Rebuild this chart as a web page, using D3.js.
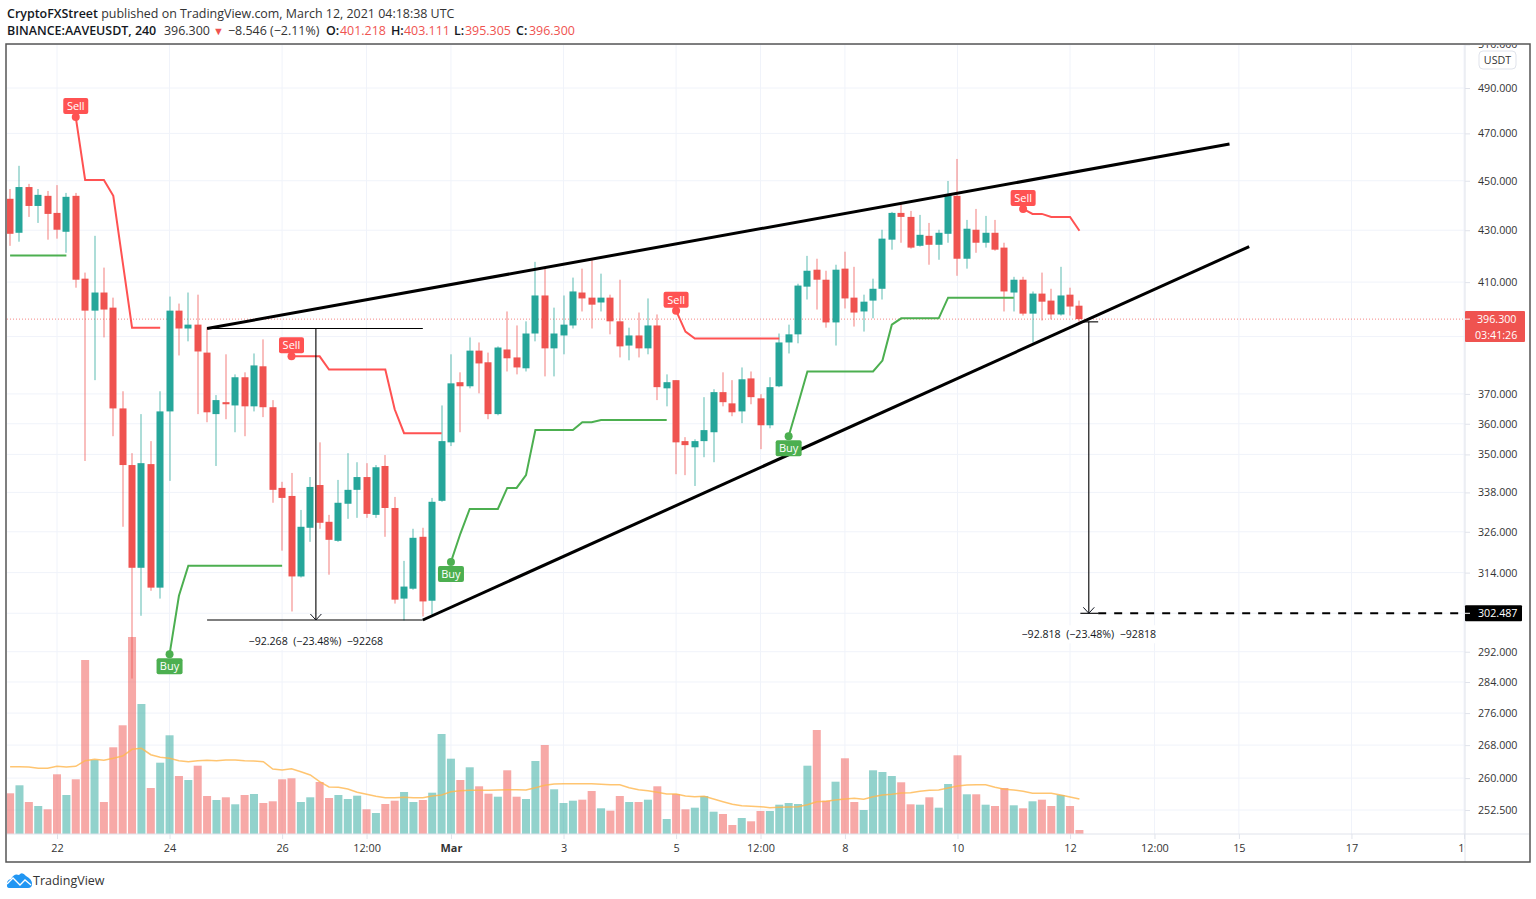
<!DOCTYPE html>
<html lang="en">
<head>
    <meta charset="utf-8">
    <script src="https://d3js.org/d3.v7.min.js"></script>
    <style>
        html, body { margin: 0; padding: 0; background: #fff; }
        svg { display: block; }
        text { font-family: "Open Sans", sans-serif; fill: #131722; white-space: pre; }
    </style>
</head>
<body>

<script>
    var w = 1536;
    var h = 899;

    // 4h bars, index 0 = Feb 21 04:00
    var opens = [442.6,429.0,447.4,439.7,443.8,436.9,429.4,443.8,411.3,399.4,406.1,400.5,365.1,346.6,315.4,346.9,309.7,364.1,399.4,392.9,394.3,384.3,363.2,367.2,366.1,375.7,365.8,379.5,365.5,339.4,336.9,312.9,327.2,340.3,329.0,323.3,334.5,338.8,342.8,331.1,346.3,333.2,306.6,309.4,324.5,306.0,335.4,353.9,374.0,372.6,385.0,380.9,363.2,385.4,382.6,378.8,391.1,405.0,385.8,390.4,394.0,406.1,404.2,402.4,404.2,395.5,386.8,390.4,385.8,394.0,371.9,374.7,354.3,352.3,354.3,357.2,370.6,366.8,364.1,375.3,368.5,359.5,372.6,387.9,390.8,408.3,414.7,410.9,395.1,415.1,404.2,399.1,403.1,407.5,426.3,436.9,435.3,423.9,427.8,424.3,428.6,443.8,418.9,430.2,425.1,429.0,423.2,406.1,410.9,398.3,405.7,403.1,398.0,405.3,401.218];
    var highs = [446.6,456.2,448.7,446.6,445.8,448.2,445.0,445.0,413.6,427.8,415.5,404.2,370.9,350.4,363.2,354.3,370.9,404.6,402.0,406.1,405.3,393.2,369.6,383.7,376.7,377.4,384.0,389.0,367.9,341.3,344.1,332.6,342.8,353.9,331.1,341.9,350.4,347.5,347.2,346.6,349.8,336.6,317.4,326.9,327.2,336.3,366.1,383.7,377.4,389.7,387.9,384.3,386.5,399.1,394.0,395.5,417.7,415.5,400.5,405.0,411.7,415.1,418.5,413.2,405.3,410.9,393.2,398.7,403.9,398.0,376.7,374.7,355.6,354.9,368.9,371.6,377.4,374.7,379.1,377.7,369.9,375.7,391.1,394.3,409.4,420.0,418.9,414.3,416.6,421.6,415.8,405.3,411.3,430.2,437.3,440.6,437.7,436.1,432.9,430.2,449.9,459.1,434.1,438.5,435.7,434.1,425.1,412.0,412.0,406.5,413.6,407.5,415.8,407.9,403.111];
    var lows = [423.9,425.5,435.3,432.9,426.3,426.7,421.2,407.9,347.9,374.7,389.7,355.9,327.5,284.9,301.8,308.8,306.6,341.6,383.3,388.3,363.2,360.5,346.3,361.5,357.2,355.9,364.1,362.2,334.8,320.4,303.0,312.6,323.0,326.9,313.4,323.0,329.9,330.2,330.2,330.2,324.5,305.2,300.5,309.1,301.6,302.1,335.1,352.7,357.2,371.9,370.2,361.5,362.8,377.7,376.7,377.7,388.3,376.0,376.0,383.7,392.9,399.1,392.9,399.1,390.8,382.6,381.6,382.6,383.7,367.9,365.8,343.7,343.4,340.0,349.1,347.5,365.8,362.5,360.2,366.5,351.7,358.5,372.3,384.0,387.6,403.5,399.8,393.2,386.8,400.2,393.6,391.8,396.6,403.5,422.4,425.1,422.8,423.6,416.6,418.5,425.1,412.4,415.1,421.2,423.2,422.0,399.1,399.1,397.6,387.9,395.8,396.2,397.6,397.6,395.305];
    var closes = [428.6,447.4,439.7,444.2,436.5,430.2,443.4,410.9,399.4,406.1,399.8,365.1,346.6,315.4,347.2,309.7,364.1,399.4,392.9,394.3,384.7,363.8,367.9,366.5,375.7,365.8,379.8,365.5,338.8,336.3,312.9,327.5,339.7,328.7,323.6,334.8,338.8,342.8,331.4,345.9,333.2,306.3,310.0,324.2,305.8,335.1,354.3,373.6,372.6,385.0,380.5,363.2,386.1,382.3,379.1,391.1,405.0,385.8,391.1,394.3,406.5,403.9,401.6,404.2,395.5,386.5,390.4,385.8,394.0,372.3,374.0,353.9,353.0,354.3,357.9,370.6,367.2,363.8,375.0,368.9,359.5,372.3,387.9,390.8,408.7,414.3,410.9,395.1,414.7,403.9,398.7,402.7,407.5,426.7,436.9,435.3,423.2,428.2,424.3,429.0,444.2,418.9,430.6,425.1,429.0,422.4,406.5,410.9,398.3,405.7,402.7,398.0,405.0,400.9,396.3];

    var volumes = [40.7,48.7,32,28,24.7,59.7,39,54.7,174,74,32,86.7,108.7,197,130,46,71.3,98.7,58,54,68.3,38,34,36.7,29.7,39,40,31,32.7,54.7,55.7,32,36.7,52,36,39,35,38.3,24.7,21,30,33.3,42,32,34,41.3,100,75.3,54,66.7,47.7,40.3,37.3,63.7,37.3,35,73,89,44.7,31,33.3,34.3,43,25.7,23.3,38,32,32,34.3,47.7,15,40,24.7,26.3,38,22.3,20,9,16,12.7,23,23,29.3,31,30,68.3,104,33.3,52.3,75.7,32,24,63.7,62,58,51.7,29.7,29.3,36.7,26.3,50,78.7,39.7,39.7,29.3,28,46,28.7,25.7,32.7,34.3,28,39,28,4];
    var volumeMA = [67.3,67.3,67,65.7,65.7,67.7,67,67.7,73.3,74.7,73.7,75.7,78,84.7,85.7,79.3,76.7,75.7,73.3,72.3,73.3,73.7,73.3,74,74,73.3,73,72.3,65,64,65.3,62.3,59,52.3,47,46.7,45,41.7,39.7,37.7,36.3,36.3,36.7,36.3,36.3,38,39,42.3,43.3,43.7,43.7,43.7,44,44.3,44.3,44,46.3,48.7,50,50.3,50.3,50.3,50.3,49.7,49.3,49.3,46.3,44.3,43.3,41.7,40,40,38,37.3,37.7,35,32.3,29.7,28.3,27.7,27.3,26.3,26.7,27,27.3,29.3,32.3,32.7,34,35,35.7,34.7,37.3,39,39.7,41,41.3,42.7,43.7,44,46,48,49,49.3,49.3,46.7,44.7,44,42.7,40.7,40.7,40.7,39,37,35];

    // supertrend pieces: [bar, price]
    var sellLines = [
        [[7,477.1],[8,450.3],[10,450.3],[11,443.8],[12,417.7],[13,393.2],[16,393.2]],
        [[30,383.0],[33,383.0],[34,378.4],[40,378.4],[41,364.8],[42,356.9],[46,356.9]],
        [[71,399.4],[72,391.8],[73,389.3],[82,389.3]],
        [[108,438.5],[109,436.5],[110,436.5],[111,435.3],[113,435.3],[114,429.8]]
    ];
    var buyLines = [
        [[17,291.3],[18,307.4],[19,316.0],[29,316.0]],
        [[47,317.1],[48,325.4],[49,332.9],[52,332.9],[53,339.4],[54,339.4],[55,343.4],[56,357.9],[60,357.9],[61,360.5],[62,360.5],[63,361.2],[70,361.2]],
        [[83,355.9],[84,366.5],[85,377.7],[92,377.7],[93,381.5],[94,394.3],[95,396.6],[99,396.6],[100,404.2],[107,404.2]]
    ];
    var firstBuyLine = [[0,420.1],[6,420.1]];

    // drawings
    var wedgeTop = [[21,392.9],[130,465.4]];
    var wedgeBottom = [[44,300.63],[132.1,423.6]];
    var measureLeftBars = [21, 32.6, 44];
    var measureLeftPrices = [392.9, 300.63];
    var measureRightBars = [114.1, 115, 116];
    var measureRightPrices = [395.305, 302.487];
    var currentPrice = 396.3;

    var priceTicks = [510,490,470,450,430,410,370,360,350,338,326,314,292,284,276,268,260,252.5];
    var priceGrid = priceTicks.concat([390,302.5]);
    var timeTicks = [5,17,29,38,47,59,71,80,89,101,113,122,131,143,155];
    var timeLabels = ['22','24','26','12:00','Mar','3','5','12:00','8','10','12','12:00','15','17','19'];

    var paneL = 7, paneR = 1465, paneT = 45, paneB = 834, frameR = 1529, frameB = 862;

    var x = d3.scaleLinear().domain([0, 155]).range([10.1, 1464]);
    var y = d3.scaleLog().domain([252.5, 490]).range([810, 88]);
    var yVol = d3.scaleLinear().domain([0, 197]).range([paneB, 637]);

    var svg = d3.select('body').append('svg').attr('width', w).attr('height', h);

    var defs = svg.append('defs');
    defs.append('clipPath').attr('id', 'pane').append('rect')
        .attr('x', paneL).attr('y', paneT).attr('width', paneR - paneL).attr('height', paneB - paneT);
    defs.append('clipPath').attr('id', 'priceAxis').append('rect')
        .attr('x', paneR).attr('y', paneT).attr('width', frameR - paneR).attr('height', paneB - paneT);
    defs.append('clipPath').attr('id', 'timeAxis').append('rect')
        .attr('x', paneL).attr('y', paneB).attr('width', paneR - paneL).attr('height', frameB - paneB);

    // header
    var head1 = svg.append('text').attr('x', 7).attr('y', 18).attr('font-size', 12.45);
    head1.append('tspan').attr('font-weight', 600).text('CryptoFXStreet');
    head1.append('tspan').attr('fill', '#333').text(' published on TradingView.com, March 12, 2021 04:18:38 UTC');

    var head2 = svg.append('text').attr('y', 35).attr('font-size', 12.45);
    head2.append('tspan').attr('x', 7).attr('font-weight', 600).text('BINANCE:AAVEUSDT, 240');
    head2.append('tspan').attr('x', 164).attr('fill', '#333').text('396.300');
    head2.append('tspan').attr('x', 213).style('fill', '#ef5350').attr('font-size', 11).text('▼');
    head2.append('tspan').attr('x', 228).attr('fill', '#333').text('−8.546 (−2.11%)');
    [['O:', '401.218', 326, 340], ['H:', '403.111', 391, 404], ['L:', '395.305', 454, 465], ['C:', '396.300', 516, 529]].forEach(function(d) {
        head2.append('tspan').attr('x', d[2]).attr('font-weight', 600).text(d[0]);
        head2.append('tspan').attr('x', d[3]).style('fill', '#ef5350').text(d[1]);
    });

    // grid
    svg.append('g').selectAll('line').data(priceGrid).enter().append('line')
        .attr('x1', paneL).attr('x2', paneR)
        .attr('y1', function(d) { return y(d); }).attr('y2', function(d) { return y(d); })
        .attr('stroke', '#f0f3fa');
    svg.append('g').selectAll('line').data(timeTicks).enter().append('line')
        .attr('x1', function(d) { return x(d); }).attr('x2', function(d) { return x(d); })
        .attr('y1', paneT).attr('y2', paneB)
        .attr('stroke', '#f0f3fa');

    var pane = svg.append('g').attr('clip-path', 'url(#pane)');

    // volume
    pane.append('g').selectAll('rect').data(volumes).enter().append('rect')
        .attr('x', function(d, i) { return x(i) - 4; })
        .attr('width', 8)
        .attr('y', function(d) { return yVol(d); })
        .attr('height', function(d) { return paneB - yVol(d); })
        .attr('fill', function(d, i) { return closes[i] >= opens[i] ? '#26a69a' : '#ef5350'; })
        .attr('opacity', 0.5);

    var volLine = d3.line()
        .x(function(d, i) { return x(i); })
        .y(function(d) { return yVol(d); });
    pane.append('path').attr('d', volLine(volumeMA))
        .attr('fill', 'none').attr('stroke', '#ffb74d').attr('stroke-opacity', 0.8).attr('stroke-width', 1.5);

    // current price line
    pane.append('line')
        .attr('x1', paneL).attr('x2', paneR)
        .attr('y1', y(currentPrice)).attr('y2', y(currentPrice))
        .attr('stroke', '#ef5350').attr('stroke-opacity', 0.7).attr('stroke-dasharray', '1 2');

    // candles
    var candles = pane.append('g').selectAll('g').data(opens).enter().append('g')
        .attr('fill', function(d, i) { return closes[i] >= d ? '#26a69a' : '#ef5350'; });
    candles.append('rect')
        .attr('x', function(d, i) { return Math.round(x(i)) - 0.5; })
        .attr('width', 1)
        .attr('y', function(d, i) { return y(highs[i]); })
        .attr('height', function(d, i) { return y(lows[i]) - y(highs[i]); })
        .attr('opacity', 0.75);
    candles.append('rect')
        .attr('x', function(d, i) { return Math.round(x(i)) - 3.5; })
        .attr('width', 7)
        .attr('y', function(d, i) { return y(Math.max(d, closes[i])); })
        .attr('height', function(d, i) { return Math.max(1.5, Math.abs(y(d) - y(closes[i]))); });

    // supertrend
    var barLine = d3.line()
        .x(function(d) { return x(d[0]); })
        .y(function(d) { return y(d[1]); });
    sellLines.forEach(function(l) {
        pane.append('path').attr('d', barLine(l)).attr('fill', 'none').attr('stroke', '#ff5252').attr('stroke-width', 2);
    });
    buyLines.concat([firstBuyLine]).forEach(function(l) {
        pane.append('path').attr('d', barLine(l)).attr('fill', 'none').attr('stroke', '#4caf50').attr('stroke-width', 2);
    });

    // drawings
    function drawLine(x1, p1, x2, p2, width) {
        return pane.append('line')
            .attr('x1', x(x1)).attr('y1', y(p1))
            .attr('x2', x(x2)).attr('y2', y(p2))
            .attr('stroke', '#000').attr('stroke-width', width);
    }
    function arrowHead(bar, price) {
        var px = x(bar), py = y(price);
        pane.append('path')
            .attr('d', 'M' + (px - 5.5) + ',' + (py - 6) + 'L' + px + ',' + py + 'L' + (px + 5.5) + ',' + (py - 6))
            .attr('fill', 'none').attr('stroke', '#131722').attr('stroke-width', 1);
    }
    drawLine(wedgeTop[0][0], wedgeTop[0][1], wedgeTop[1][0], wedgeTop[1][1], 3);
    drawLine(wedgeBottom[0][0], wedgeBottom[0][1], wedgeBottom[1][0], wedgeBottom[1][1], 3);

    drawLine(measureLeftBars[0], measureLeftPrices[0], measureLeftBars[2], measureLeftPrices[0], 1.1);
    drawLine(measureLeftBars[0], measureLeftPrices[1], measureLeftBars[2], measureLeftPrices[1], 1.1);
    drawLine(measureLeftBars[1], measureLeftPrices[0], measureLeftBars[1], measureLeftPrices[1], 1.1);
    arrowHead(measureLeftBars[1], measureLeftPrices[1]);

    drawLine(measureRightBars[0], measureRightPrices[0], measureRightBars[2], measureRightPrices[0], 1.1);
    drawLine(measureRightBars[0], measureRightPrices[1], measureRightBars[2], measureRightPrices[1], 1.1);
    drawLine(measureRightBars[1], measureRightPrices[0], measureRightBars[1], measureRightPrices[1], 1.1);
    arrowHead(measureRightBars[1], measureRightPrices[1]);

    drawLine(measureRightBars[2], measureRightPrices[1], 155, measureRightPrices[1], 2)
        .attr('stroke-dasharray', '8 8');

    function measureLabel(cx, py, str) {
        pane.append('rect').attr('x', cx - 74).attr('y', py - 9).attr('width', 148).attr('height', 18).attr('fill', '#fff');
        pane.append('text').attr('x', cx).attr('y', py + 4).attr('text-anchor', 'middle').attr('font-size', 10.6).text(str);
    }
    measureLabel(x(measureLeftBars[1]), y(measureLeftPrices[1]) + 21, '−92.268  (−23.48%)  −92268');
    measureLabel(x(measureRightBars[1]), y(measureRightPrices[1]) + 21, '−92.818  (−23.48%)  −92818');

    // buy / sell flags, sitting on the first point of each supertrend piece
    function flag(bar, price, label, color, below) {
        var px = x(bar), py = y(price);
        var bw = label === 'Buy' ? 26 : 25;
        var cy = below ? py + 12 : py - 11;
        pane.append('circle').attr('cx', px).attr('cy', py).attr('r', 4).attr('fill', color);
        pane.append('rect').attr('x', px - bw / 2).attr('y', cy - 8).attr('width', bw).attr('height', 16)
            .attr('rx', 2).attr('fill', color);
        pane.append('text').attr('x', px).attr('y', cy + 4).attr('text-anchor', 'middle')
            .attr('font-size', 11).style('fill', '#fff').text(label);
    }
    sellLines.forEach(function(l) { flag(l[0][0], l[0][1], 'Sell', '#ff5252', false); });
    buyLines.forEach(function(l) { flag(l[0][0], l[0][1], 'Buy', '#4caf50', true); });

    // axes
    var priceAxis = d3.axisRight(y).tickValues(priceTicks).tickFormat(d3.format('.3f')).tickSize(5).tickPadding(8);
    var gPrice = svg.append('g').attr('clip-path', 'url(#priceAxis)')
        .append('g').attr('transform', 'translate(' + paneR + ',0)').call(priceAxis);
    gPrice.select('.domain').remove();
    gPrice.selectAll('.tick line').attr('stroke', '#e0e3eb');
    gPrice.selectAll('text').attr('font-size', 10.7).attr('font-family', null).style('fill', '#333');

    var timeAxis = d3.axisBottom(x).tickValues(timeTicks)
        .tickFormat(function(d, i) { return timeLabels[i]; }).tickSize(5).tickPadding(5);
    var gTime = svg.append('g').attr('clip-path', 'url(#timeAxis)')
        .append('g').attr('transform', 'translate(0,' + paneB + ')').call(timeAxis);
    gTime.select('.domain').remove();
    gTime.selectAll('.tick line').attr('stroke', '#e0e3eb');
    gTime.selectAll('text').attr('font-size', 10.9).attr('font-family', null).style('fill', '#333')
        .attr('font-weight', function(d, i) { return timeLabels[i] === 'Mar' ? 700 : null; });

    svg.append('line').attr('x1', paneL).attr('x2', frameR).attr('y1', paneB).attr('y2', paneB).attr('stroke', '#e0e3eb');
    svg.append('line').attr('x1', paneR).attr('x2', paneR).attr('y1', paneT).attr('y2', frameB).attr('stroke', '#e0e3eb');

    // price scale badges
    svg.append('rect').attr('x', 1479).attr('y', 51).attr('width', 37).attr('height', 18).attr('rx', 4)
        .attr('fill', '#fff').attr('stroke', '#e0e3eb');
    svg.append('text').attr('x', 1497.5).attr('y', 64).attr('text-anchor', 'middle').attr('font-size', 10.7)
        .style('fill', '#333').text('USDT');

    svg.append('rect').attr('x', paneR).attr('y', y(currentPrice) - 8).attr('width', 60).attr('height', 31).attr('rx', 1).attr('fill', '#ef5350');
    svg.append('line').attr('x1', paneR).attr('x2', paneR + 5).attr('y1', y(currentPrice)).attr('y2', y(currentPrice)).attr('stroke', '#fff');
    svg.append('text').attr('x', 1477).attr('y', y(currentPrice) + 4).attr('font-size', 10.7).style('fill', '#fff').text('396.300');
    svg.append('text').attr('x', 1475).attr('y', y(currentPrice) + 20).attr('font-size', 10.7).style('fill', '#fff').text('03:41:26');

    svg.append('rect').attr('x', paneR).attr('y', y(measureRightPrices[1]) - 8).attr('width', 57).attr('height', 16).attr('rx', 1).attr('fill', '#000');
    svg.append('line').attr('x1', paneR).attr('x2', paneR + 5).attr('y1', y(measureRightPrices[1])).attr('y2', y(measureRightPrices[1])).attr('stroke', '#fff');
    svg.append('text').attr('x', 1478).attr('y', y(measureRightPrices[1]) + 4).attr('font-size', 10.7).style('fill', '#fff').text('302.487');

    // frame
    svg.append('rect').attr('x', 6).attr('y', 44).attr('width', frameR + 1 - 6).attr('height', frameB - 44)
        .attr('fill', 'none').attr('stroke', '#555').attr('stroke-width', 1.5);

    // footer logo
    svg.append('path')
        .attr('d', 'M7,886 Q6,880 11,879 Q14,873 19,875 Q22,871 26,876 Q32,879 32,884 Q32,888 28,888 L10,888 Q7,888 7,886 Z')
        .attr('fill', '#2196f3');
    svg.append('path')
        .attr('d', 'M7,884 L13,878 L20,885 L25,880 L31,885')
        .attr('fill', 'none').attr('stroke', '#fff').attr('stroke-width', 1.3);
    svg.append('text').attr('x', 33).attr('y', 885).attr('font-size', 12.5).style('fill', '#333').text('TradingView');
</script>
</body>
</html>
